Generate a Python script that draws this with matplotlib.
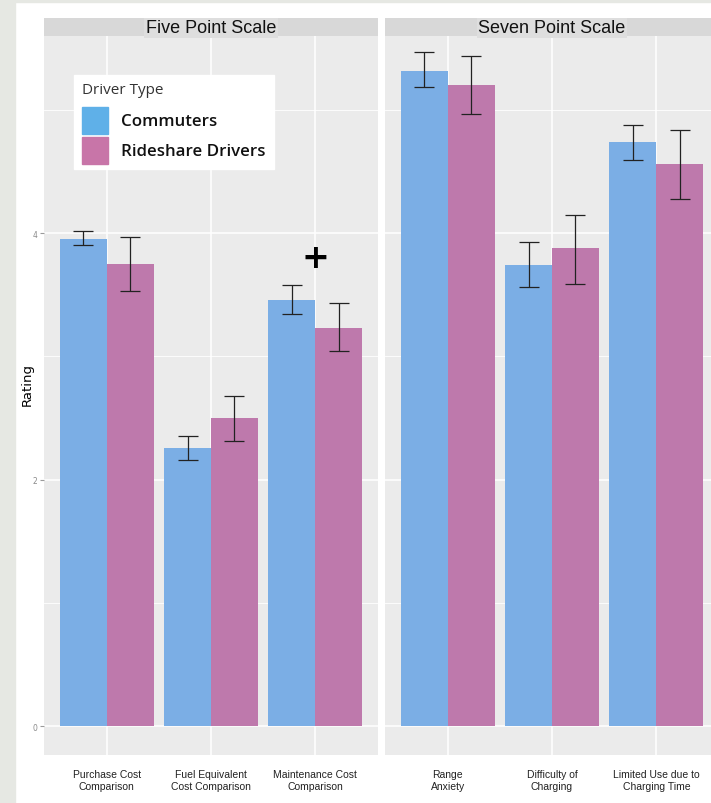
import matplotlib
matplotlib.use("Agg")
import matplotlib.pyplot as plt
import numpy as np
from matplotlib.patches import Rectangle

# ratings (mean, upper and lower error-bar ends)
five_labels = ["Purchase Cost\nComparison", "Fuel Equivalent\nCost Comparison", "Maintenance Cost\nComparison"]
seven_labels = ["Range\nAnxiety", "Difficulty of\nCharging", "Limited Use due to\nCharging Time"]

five_comm = [3.95, 2.26, 3.46]
five_comm_hi = [4.02, 2.35, 3.58]
five_comm_lo = [3.90, 2.16, 3.34]
five_ride = [3.75, 2.50, 3.23]
five_ride_hi = [3.97, 2.68, 3.43]
five_ride_lo = [3.53, 2.31, 3.04]

seven_comm = [5.32, 3.74, 4.74]
seven_comm_hi = [5.47, 3.93, 4.88]
seven_comm_lo = [5.19, 3.56, 4.59]
seven_ride = [5.20, 3.88, 4.56]
seven_ride_hi = [5.44, 4.15, 4.84]
seven_ride_lo = [4.97, 3.59, 4.28]

panel_titles = ["Five Point Scale", "Seven Point Scale"]
legend_title = "Driver Type"
legend_names = ["Commuters", "Rideshare Drivers"]

W, H = 711, 804
BLUE = "#7baee5"
PINK = "#be79ac"
narrow = ["Liberation Sans Narrow", "Liberation Sans", "DejaVu Sans"]


def box(x0, y0, x1, y1):
    # pixel box (from top-left) -> figure fraction rect
    return [x0 / W, 1 - y1 / H, (x1 - x0) / W, (y1 - y0) / H]


fig = plt.figure(figsize=(W / 100, H / 100), dpi=100)
fig.patch.set_facecolor("white")
fig.patches.append(Rectangle((0, 0), 15 / W, 1, transform=fig.transFigure, color="#e6e8e3", zorder=0))
fig.patches.append(Rectangle((0, 1 - 3 / H), 1, 3 / H, transform=fig.transFigure, color="#e6e8e3", zorder=0))

panels = [
    (five_labels, five_comm, five_comm_hi, five_comm_lo, five_ride, five_ride_hi, five_ride_lo, 44),
    (seven_labels, seven_comm, seven_comm_hi, seven_comm_lo, seven_ride, seven_ride_hi, seven_ride_lo, 385),
]

axes = []
for i, (labels, c, chi, clo, r, rhi, rlo, left) in enumerate(panels):
    ax = fig.add_axes(box(left, 37, left + 334, 756))
    ax.set_facecolor("#ebebeb")
    for s in ax.spines.values():
        s.set_visible(False)
    x = np.arange(1, len(labels) + 1)
    w = 0.45
    c, chi, clo = np.array(c), np.array(chi), np.array(clo)
    r, rhi, rlo = np.array(r), np.array(rhi), np.array(rlo)
    ax.bar(x - w / 2, c, width=w, color=BLUE, zorder=2)
    ax.bar(x + w / 2, r, width=w, color=PINK, zorder=2)
    ax.errorbar(x - w / 2, c, yerr=[c - clo, chi - c], fmt="none", ecolor="#222222",
                elinewidth=0.9, capsize=7, capthick=0.9, zorder=3)
    ax.errorbar(x + w / 2, r, yerr=[r - rlo, rhi - r], fmt="none", ecolor="#222222",
                elinewidth=0.9, capsize=7, capthick=0.9, zorder=3)
    ax.set_xlim(0.4, 3.6)
    ax.set_ylim(-0.235, 5.6)
    ax.set_xticks(x)
    ax.set_xticklabels(labels, fontsize=7.5, family=narrow, color="#222222", linespacing=1.3)
    ax.set_yticks([0, 2, 4])
    ax.set_yticks([1, 3, 5], minor=True)
    ax.grid(True, which="major", color="white", linewidth=1.1, zorder=0)
    ax.grid(True, which="minor", axis="y", color="white", linewidth=0.6, zorder=0)
    ax.set_axisbelow(True)
    ax.tick_params(axis="x", length=0, pad=10)
    ax.tick_params(axis="y", which="minor", length=0)
    if i == 0:
        ax.set_yticklabels(["0", "2", "4"], fontsize=5.5, color="#8a8a8a")
        ax.tick_params(axis="y", length=3, color="#9a9a9a", pad=2)
    else:
        ax.tick_params(axis="y", length=0, labelleft=False)

    # facet strip
    sax = fig.add_axes(box(left, 19, left + 334, 37))
    sax.set_facecolor("#d8d8d8")
    sax.set_xticks([])
    sax.set_yticks([])
    for s in sax.spines.values():
        s.set_visible(False)
    sax.text(0.5, 0.45, panel_titles[i], transform=sax.transAxes, ha="center", va="center",
             fontsize=13, family=narrow, color="#111111",
             bbox=dict(boxstyle="square,pad=0.1", fc="#dedede", ec="none"))
    axes.append(ax)

# significance marker
axes[0].text(3, 3.8, "+", ha="center", va="center", fontsize=24, fontweight="heavy", color="black", zorder=4)

fig.text(27 / W, 1 - 385 / H, "Rating", rotation=90, ha="center", va="center", fontsize=9.5, color="black")

# legend box (pasted-looking overlay)
fig.patches.append(Rectangle((74 / W, 1 - 170 / H), 200 / W, 94 / H, transform=fig.transFigure,
                             color="white", zorder=5))
fig.text(82 / W, 1 - 90 / H, legend_title, ha="left", va="center", fontsize=11,
         family=["Open Sans", "DejaVu Sans"], color="#333333", zorder=6)
for k, (name, col) in enumerate(zip(legend_names, ["#5fb0e8", "#c875a8"])):
    y0 = 108 + k * 30
    fig.patches.append(Rectangle((82 / W, 1 - (y0 + 27) / H), 26 / W, 27 / H, transform=fig.transFigure,
                                 color=col, zorder=6))
    fig.text(121 / W, 1 - (y0 + 13.5) / H, name, ha="left", va="center", fontsize=12.2,
             family=["Open Sans", "DejaVu Sans"], fontweight="semibold", color="#111111", zorder=6)

plt.savefig("out.png", dpi=100)
